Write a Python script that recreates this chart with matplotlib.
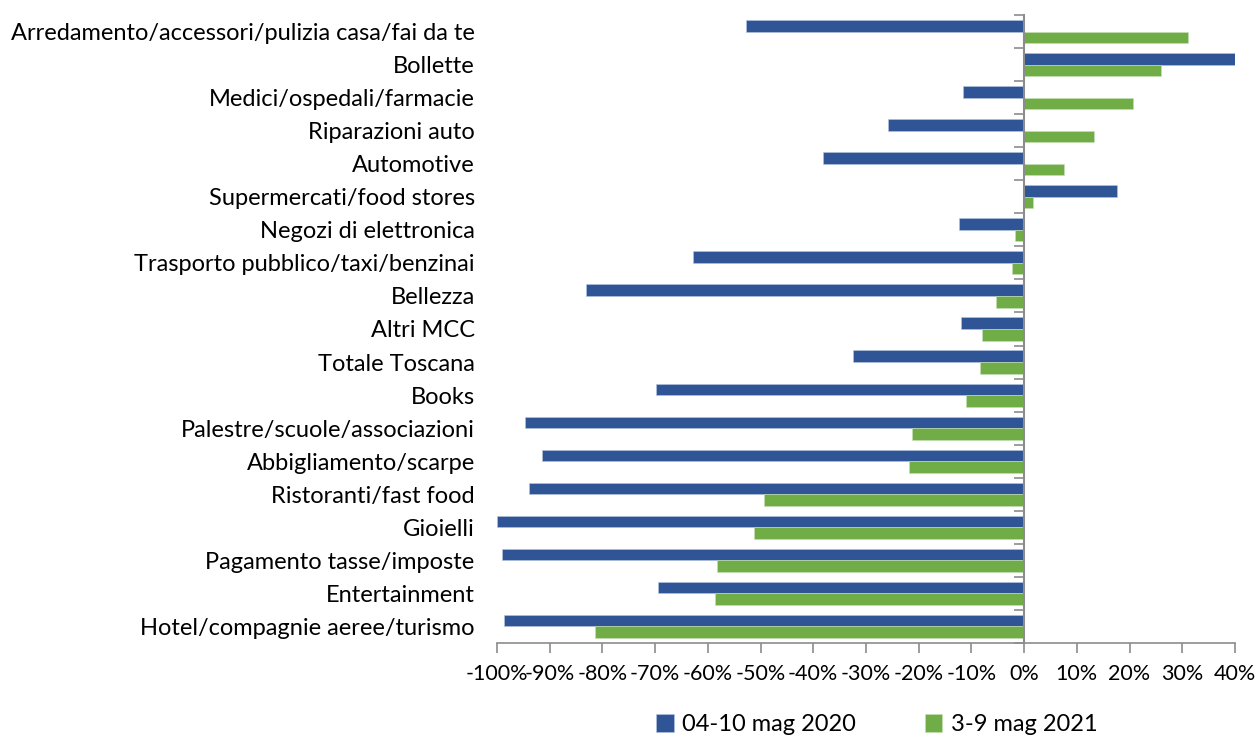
import numpy as np
import matplotlib
matplotlib.use("Agg")
import matplotlib.pyplot as plt
from matplotlib.ticker import FuncFormatter

plt.rcParams['font.family'] = ['Lato', 'DejaVu Sans']

categories = [
    "Arredamento/accessori/pulizia casa/fai da te",
    "Bollette",
    "Medici/ospedali/farmacie",
    "Riparazioni auto",
    "Automotive",
    "Supermercati/food stores",
    "Negozi di elettronica",
    "Trasporto pubblico/taxi/benzinai",
    "Bellezza",
    "Altri MCC",
    "Totale Toscana",
    "Books",
    "Palestre/scuole/associazioni",
    "Abbigliamento/scarpe",
    "Ristoranti/fast food",
    "Gioielli",
    "Pagamento tasse/imposte",
    "Entertainment",
    "Hotel/compagnie aeree/turismo",
]
series_2020 = [-52.8, 40.0, -11.6, -25.8, -38.1, 17.6, -12.3, -62.8, -83.1, -12.0,
               -32.4, -69.8, -94.7, -91.5, -93.9, -100.0, -99.0, -69.4, -98.7]
series_2021 = [31.1, 26.0, 20.7, 13.3, 7.6, 1.7, -1.7, -2.3, -5.3, -8.0,
               -8.3, -11.0, -21.3, -21.8, -49.3, -51.2, -58.3, -58.6, -81.4]
labels = ["04-10 mag 2020", "3-9 mag 2021"]
colors = ["#2F5597", "#70AD47"]

fig = plt.figure(figsize=(12.58, 7.35), dpi=100)
ax = fig.add_axes([0.395, 0.1252, 0.5867, 0.8544])

n = len(categories)
y = np.arange(n)
h = 0.35
ax.barh(y - h / 2, series_2020, height=h, color=colors[0], label=labels[0],
        edgecolor="#b8c6e0", linewidth=0.4)
ax.barh(y + h / 2, series_2021, height=h, color=colors[1], label=labels[1],
        edgecolor="#c6e0b8", linewidth=0.4)

ax.set_xlim(-100, 40)
ax.set_ylim(n - 0.5, -0.5)
ax.set_xticks(np.arange(-100, 41, 10))
ax.xaxis.set_major_formatter(FuncFormatter(lambda v, p: f"{int(round(v))}%"))
ax.tick_params(axis='x', direction='out', length=7, width=1.2, color="#8c8c8c",
               labelsize=15.5, pad=8)
ax.set_yticks(y)
ax.set_yticklabels(categories, fontsize=17)
ax.tick_params(axis='y', length=0, pad=16)
for s in ['top', 'right', 'left']:
    ax.spines[s].set_visible(False)
ax.spines['bottom'].set_color("#8c8c8c")
ax.spines['bottom'].set_linewidth(1.2)

# vertical zero axis with tick marks between categories
ax2 = ax.twinx()
ax2.set_ylim(ax.get_ylim())
for s in ['top', 'right', 'bottom']:
    ax2.spines[s].set_visible(False)
ax2.spines['left'].set_position(('data', 0))
ax2.spines['left'].set_color("#8c8c8c")
ax2.spines['left'].set_linewidth(1.5)
ax2.yaxis.tick_left()
ax2.set_yticks(np.arange(-0.5, n, 1.0))
ax2.set_yticklabels([])
ax2.tick_params(axis='y', direction='out', length=7, width=1.2, color="#8c8c8c")

handles, labs = ax.get_legend_handles_labels()
fig.legend(handles, labs, loc='center', bbox_to_anchor=(0.697, 0.014), ncol=2,
           frameon=False, fontsize=17, handlelength=0.75, handleheight=0.75,
           columnspacing=2.9, handletextpad=0.35)

fig.savefig("out.png", dpi=100)
